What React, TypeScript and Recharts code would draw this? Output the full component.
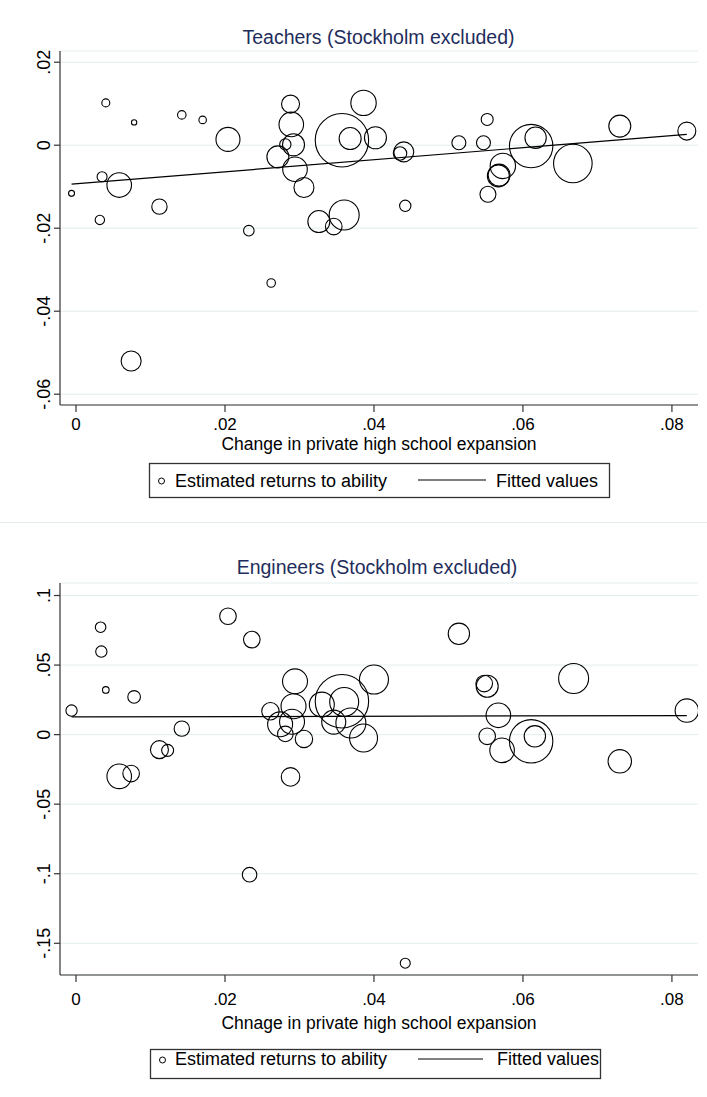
import React from "react";
import { ScatterChart, Scatter, XAxis, YAxis, ZAxis, CartesianGrid, Label } from "recharts";

const FONT = "'Liberation Sans', Arial, Helvetica, sans-serif";

// ---- shared x axis ----
const xTicks = [0, 0.02, 0.04, 0.06, 0.08];
const xTickLabels = ["0", ".02", ".04", ".06", ".08"];
const xDomain = [-0.00215, 0.0835];

// ---- Teachers panel ----
const teacherTitle = "Teachers (Stockholm excluded)";
const teacherXTitle = "Change in private high school expansion";
const teacherYTicks = [-0.06, -0.04, -0.02, 0, 0.02];
const teacherYTickLabels = ["-.06", "-.04", "-.02", "0", ".02"];
const teacherYDomain = [-0.0626, 0.0227];
const teacherX = [
  -0.0006, 0.004, 0.0078, 0.0035, 0.0058, 0.0032, 0.0112, 0.0142, 0.017, 0.0204,
  0.0232, 0.0288, 0.0289, 0.0281, 0.0292, 0.0271, 0.0294, 0.0306, 0.0326, 0.0346,
  0.036, 0.0357, 0.0368, 0.0386, 0.0402, 0.0435, 0.044, 0.0442, 0.0514, 0.0547,
  0.0552, 0.0553, 0.0573, 0.0567, 0.0568, 0.0611, 0.0617, 0.0667, 0.073, 0.082,
  0.0262, 0.0074,
];
const teacherY = [
  -0.0116, 0.0102, 0.0055, -0.0076, -0.0096, -0.018, -0.0148, 0.0073, 0.0061, 0.0014,
  -0.0206, 0.0099, 0.005, 0.0002, 0.0001, -0.0028, -0.0058, -0.0102, -0.0184, -0.0196,
  -0.0168, 0.0012, 0.0016, 0.0102, 0.0018, -0.002, -0.0016, -0.0146, 0.0006, 0.0006,
  0.0062, -0.0118, -0.005, -0.0074, -0.0072, -0.0002, 0.0018, -0.0044, 0.0046, 0.0034,
  -0.0332, -0.052,
];
const teacherW = [
  9, 16, 7, 25, 151, 22, 59, 18, 14, 144,
  28, 81, 151, 32, 121, 121, 151, 100, 121, 69,
  225, 713, 121, 161, 121, 45, 100, 32, 49, 49,
  36, 64, 161, 121, 121, 471, 114, 372, 121, 81,
  18, 100,
];
const teacherFitX = [-0.0006, 0.082];
const teacherFitY = [-0.0094, 0.0026];

// ---- Engineers panel ----
const engineerTitle = "Engineers (Stockholm excluded)";
const engineerXTitle = "Chnage in private high school expansion";
const engineerYTicks = [-0.15, -0.1, -0.05, 0, 0.05, 0.1];
const engineerYTickLabels = ["-.15", "-.1", "-.05", "0", ".05", ".1"];
const engineerYDomain = [-0.1728, 0.109];
const engineerX = [
  -0.0006, 0.0033, 0.0034, 0.004, 0.0078, 0.0142, 0.0112, 0.0123, 0.0058, 0.0074,
  0.0204, 0.0236, 0.0288, 0.0233, 0.0294, 0.0261, 0.0274, 0.0292, 0.029, 0.0281,
  0.0306, 0.033, 0.0346, 0.0357, 0.036, 0.0369, 0.0386, 0.04, 0.0514, 0.0548,
  0.0552, 0.0567, 0.0552, 0.0572, 0.0611, 0.0616, 0.0668, 0.073, 0.082, 0.0442,
];
const engineerY = [
  0.0173, 0.0772, 0.0597, 0.0321, 0.0271, 0.0043, -0.0108, -0.0113, -0.03, -0.028,
  0.0851, 0.0683, -0.0304, -0.1007, 0.0383, 0.0168, 0.0074, 0.0204, 0.0093, 0.0005,
  -0.0031, 0.0216, 0.009, 0.024, 0.0235, 0.0084, -0.0024, 0.0396, 0.0725, 0.0367,
  0.0348, 0.0139, -0.0012, -0.0113, -0.0048, -0.0012, 0.0403, -0.0192, 0.0173, -0.1643,
];
const engineerW = [
  32, 28, 32, 11, 40, 59, 81, 36, 151, 69,
  69, 69, 86, 53, 156, 76, 156, 156, 156, 61,
  76, 156, 144, 713, 210, 225, 196, 210, 114, 69,
  121, 151, 69, 151, 471, 114, 225, 137, 137, 25,
];
const engineerFitX = [-0.0006, 0.082];
const engineerFitY = [0.0127, 0.0137];

const legendLabels = ["Estimated returns to ability", "Fitted values"];

const toPoints = (xs: number[], ys: number[], ws?: number[]) =>
  xs.map((x, i) => ({ x, y: ys[i], w: ws ? ws[i] : 0 }));

const labelFor = (ticks: number[], labels: string[]) => (v: number) => {
  const i = ticks.findIndex((t) => Math.abs(t - v) < 1e-9);
  return i >= 0 ? labels[i] : String(v);
};

const Ring = (props: any) => {
  const { cx, cy, width, size } = props;
  const r = width ? width / 2 : Math.sqrt((size || 0) / Math.PI);
  return <circle cx={cx} cy={cy} r={r} fill="none" stroke="#000" strokeWidth={1.1} />;
};

const NoShape = () => <g />;

const makeYTick = (ticks: number[], labels: string[]) => (props: any) => {
  const { x, y, payload } = props;
  const f = labelFor(ticks, labels);
  return (
    <text
      x={x}
      y={y}
      transform={`rotate(-90, ${x}, ${y})`}
      textAnchor="middle"
      fontSize={18}
      fontFamily={FONT}
      fill="#000"
    >
      {f(payload.value)}
    </text>
  );
};

type PanelProps = {
  height: number;
  marginTop: number;
  marginBottom: number;
  tickMargin: number;
  titleOffset: number;
  xTitle: string;
  yTicks: number[];
  yTickLabels: string[];
  yDomain: number[];
  points: { x: number; y: number; w: number }[];
  fit: { x: number; y: number; w: number }[];
};

const Panel = (p: PanelProps) => (
  <ScatterChart
    width={707}
    height={p.height}
    margin={{ top: p.marginTop, right: 9, bottom: p.marginBottom, left: 0 }}
  >
    <CartesianGrid vertical={false} stroke="#e4eded" strokeWidth={1} />
    <XAxis
      type="number"
      dataKey="x"
      domain={xDomain}
      allowDataOverflow
      ticks={xTicks}
      tickFormatter={labelFor(xTicks, xTickLabels)}
      height={30}
      tickSize={7}
      tickMargin={p.tickMargin}
      axisLine={{ stroke: "#333", strokeWidth: 1.2 }}
      tickLine={{ stroke: "#333", strokeWidth: 1.2 }}
      tick={{ fontSize: 17, fill: "#000", fontFamily: FONT }}
    >
      <Label
        content={(lp: any) => {
          const vb = lp.viewBox || {};
          return (
            <text
              x={vb.x + vb.width / 2}
              y={vb.y + p.titleOffset}
              textAnchor="middle"
              fontSize={17.5}
              fontFamily={FONT}
              fill="#000"
            >
              {p.xTitle}
            </text>
          );
        }}
      />
    </XAxis>
    <YAxis
      type="number"
      dataKey="y"
      domain={p.yDomain}
      allowDataOverflow
      ticks={p.yTicks}
      width={60}
      tickSize={6}
      tickMargin={4}
      axisLine={{ stroke: "#333", strokeWidth: 1.2 }}
      tickLine={{ stroke: "#333", strokeWidth: 1.2 }}
      tick={makeYTick(p.yTicks, p.yTickLabels)}
    />
    <ZAxis type="number" dataKey="w" domain={[0, 800]} range={[0, 800 * Math.PI]} />
    <Scatter data={p.points} shape={Ring} isAnimationActive={false} />
    <Scatter
      data={p.fit}
      line={{ stroke: "#000", strokeWidth: 1.2 }}
      shape={NoShape}
      isAnimationActive={false}
    />
  </ScatterChart>
);

const LegendBox = ({
  x, y, w, h, cy, base, lineX1, lineX2, text2X,
}: {
  x: number; y: number; w: number; h: number; cy: number; base: number;
  lineX1: number; lineX2: number; text2X: number;
}) => (
  <g>
    <rect x={x} y={y} width={w} height={h} fill="#fff" stroke="#333" strokeWidth={1.3} />
    <circle cx={x + 12} cy={cy} r={3} fill="none" stroke="#000" strokeWidth={1} />
    <text x={175} y={base} fontSize={18} fontFamily={FONT} fill="#000">
      {legendLabels[0]}
    </text>
    <line x1={lineX1} x2={lineX2} y1={cy - 1} y2={cy - 1} stroke="#000" strokeWidth={1.2} />
    <text x={text2X} y={base} fontSize={18} fontFamily={FONT} fill="#000">
      {legendLabels[1]}
    </text>
  </g>
);

export default function App() {
  const teacherPts = toPoints(teacherX, teacherY, teacherW);
  const teacherFit = toPoints(teacherFitX, teacherFitY);
  const engineerPts = toPoints(engineerX, engineerY, engineerW);
  const engineerFit = toPoints(engineerFitX, engineerFitY);
  return (
    <div
      style={{
        position: "absolute",
        left: 0,
        top: 0,
        width: 707,
        height: 1097,
        background: "#fff",
        fontFamily: FONT,
      }}
    >
      <div style={{ position: "absolute", left: 0, top: 0 }}>
        <Panel
          height={522}
          marginTop={51}
          marginBottom={87}
          tickMargin={6}
          titleOffset={45}
          xTitle={teacherXTitle}
          yTicks={teacherYTicks}
          yTickLabels={teacherYTickLabels}
          yDomain={teacherYDomain}
          points={teacherPts}
          fit={teacherFit}
        />
      </div>
      <div style={{ position: "absolute", left: 0, top: 522 }}>
        <Panel
          height={575}
          marginTop={61}
          marginBottom={92}
          tickMargin={11}
          titleOffset={54}
          xTitle={engineerXTitle}
          yTicks={engineerYTicks}
          yTickLabels={engineerYTickLabels}
          yDomain={engineerYDomain}
          points={engineerPts}
          fit={engineerFit}
        />
      </div>
      <svg
        width={707}
        height={1097}
        style={{ position: "absolute", left: 0, top: 0, pointerEvents: "none" }}
      >
        <text x={378.5} y={44} textAnchor="middle" fontSize={19.5} fontFamily={FONT} fill="#1f2d5c">
          {teacherTitle}
        </text>
        <LegendBox x={149.5} y={463.5} w={460} h={34} cy={481} base={487} lineX1={418} lineX2={486} text2X={496} />
        <line x1={0} x2={707} y1={522.5} y2={522.5} stroke="#e4eded" strokeWidth={1} />
        <text x={377} y={574} textAnchor="middle" fontSize={19.5} fontFamily={FONT} fill="#1f2d5c">
          {engineerTitle}
        </text>
        <LegendBox x={150.5} y={1049.5} w={450} h={29} cy={1060} base={1065} lineX1={418} lineX2={483} text2X={497} />
      </svg>
    </div>
  );
}
